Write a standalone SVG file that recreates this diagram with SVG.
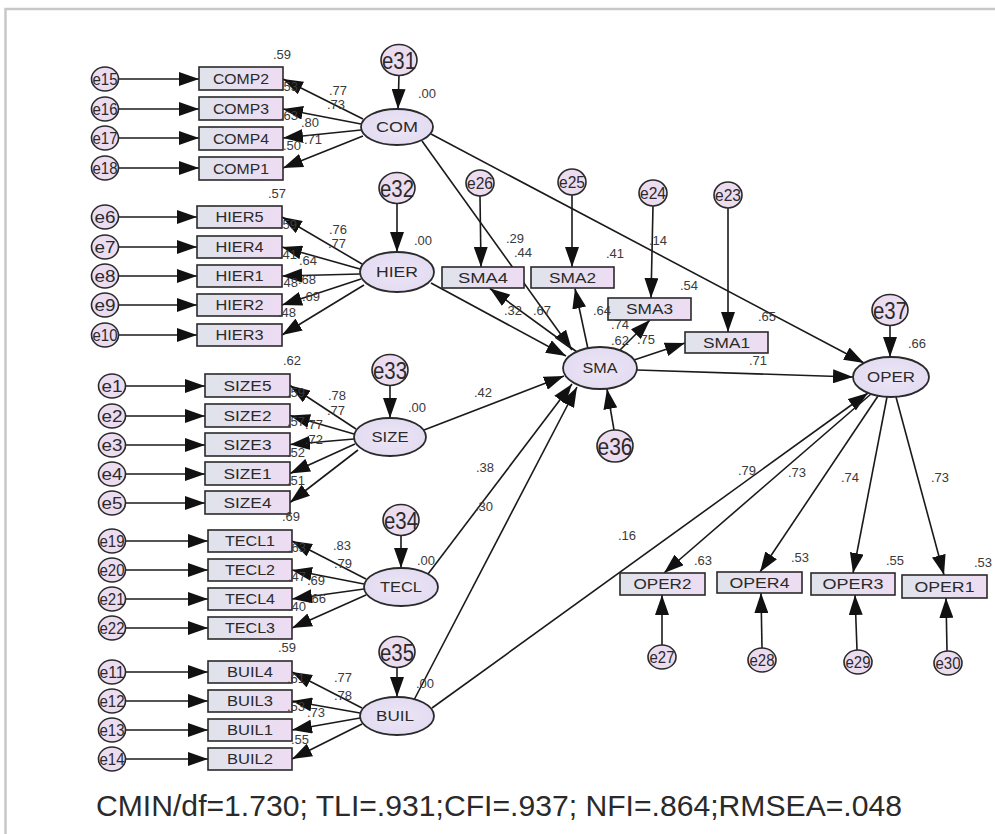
<svg xmlns="http://www.w3.org/2000/svg" width="995" height="834" viewBox="0 0 995 834">
<defs>
<linearGradient id="gb" x1="0" y1="0" x2="1" y2="0"><stop offset="0" stop-color="#dfe3eb"/><stop offset="1" stop-color="#eedcf3"/></linearGradient>
<radialGradient id="gl" cx="0.5" cy="0.5" r="0.6"><stop offset="0" stop-color="#ece6f6"/><stop offset="1" stop-color="#e2daf1"/></radialGradient>
<marker id="ah" markerWidth="20" markerHeight="14" refX="20" refY="7" orient="auto" markerUnits="userSpaceOnUse"><path d="M0,0 L20,7 L0,14 z" fill="#111"/></marker>
<style>
.box{fill:url(#gb);stroke:#2a2a2a;stroke-width:1.6}
.lat{fill:url(#gl);stroke:#2a2a2a;stroke-width:1.8}
.err{fill:#ecdcf0;stroke:#2a2a2a;stroke-width:1.6}
.ln{stroke:#1a1a1a;stroke-width:1.6;fill:none;marker-end:url(#ah)}
.t{font-family:"Liberation Sans",Arial,sans-serif;fill:#2a2a2a;text-anchor:middle}
.bt{font-size:14px}
.et{font-size:17px}
.eb{font-size:24px}
.v{font-family:"Liberation Sans",Arial,sans-serif;font-size:13px;fill:#3a3a3a;text-anchor:middle}
.fit{font-family:"Liberation Sans",Arial,sans-serif;font-size:29px;fill:#2a2a2a}
</style>
</defs>
<rect x="0" y="0" width="995" height="834" fill="#ffffff"/>
<path d="M5.5,834 L5.5,9 L995,9" fill="none" stroke="#c8c8c8" stroke-width="2.5"/>

<g id="connectors">
<line class="ln" x1="118.5" y1="79" x2="199" y2="79"/>
<line class="ln" x1="118.5" y1="109" x2="199" y2="109"/>
<line class="ln" x1="118.5" y1="138" x2="199" y2="138"/>
<line class="ln" x1="118.5" y1="168" x2="199" y2="168"/>
<line class="ln" x1="118.5" y1="217" x2="197" y2="217"/>
<line class="ln" x1="118.5" y1="247" x2="197" y2="247"/>
<line class="ln" x1="118.5" y1="276" x2="197" y2="276"/>
<line class="ln" x1="118.5" y1="305" x2="197" y2="305"/>
<line class="ln" x1="118.5" y1="335" x2="197" y2="335"/>
<line class="ln" x1="125.5" y1="386" x2="205" y2="386"/>
<line class="ln" x1="125.5" y1="416" x2="205" y2="416"/>
<line class="ln" x1="125.5" y1="445" x2="205" y2="445"/>
<line class="ln" x1="125.5" y1="474" x2="205" y2="474"/>
<line class="ln" x1="125.5" y1="503" x2="205" y2="503"/>
<line class="ln" x1="125.5" y1="541" x2="208" y2="541"/>
<line class="ln" x1="125.5" y1="570" x2="208" y2="570"/>
<line class="ln" x1="125.5" y1="599" x2="208" y2="599"/>
<line class="ln" x1="125.5" y1="628" x2="208" y2="628"/>
<line class="ln" x1="125.5" y1="672" x2="208" y2="672"/>
<line class="ln" x1="125.5" y1="701" x2="208" y2="701"/>
<line class="ln" x1="125.5" y1="730" x2="208" y2="730"/>
<line class="ln" x1="125.5" y1="759" x2="208" y2="759"/>
<line class="ln" x1="363" y1="119" x2="283" y2="79"/>
<line class="ln" x1="361" y1="124" x2="283" y2="109"/>
<line class="ln" x1="361" y1="130" x2="283" y2="138"/>
<line class="ln" x1="363" y1="136" x2="283" y2="168"/>
<line class="ln" x1="362" y1="264" x2="282" y2="217"/>
<line class="ln" x1="360" y1="269" x2="282" y2="247"/>
<line class="ln" x1="360" y1="274" x2="282" y2="276"/>
<line class="ln" x1="361" y1="279" x2="282" y2="305"/>
<line class="ln" x1="364" y1="285" x2="282" y2="335"/>
<line class="ln" x1="356" y1="429" x2="290" y2="385.5"/>
<line class="ln" x1="354" y1="434" x2="290" y2="415.5"/>
<line class="ln" x1="354" y1="439" x2="290" y2="444.5"/>
<line class="ln" x1="355" y1="444" x2="290" y2="473.5"/>
<line class="ln" x1="358" y1="450" x2="290" y2="502.5"/>
<line class="ln" x1="366" y1="579" x2="292" y2="541"/>
<line class="ln" x1="364" y1="584" x2="292" y2="570"/>
<line class="ln" x1="364" y1="589" x2="292" y2="599"/>
<line class="ln" x1="366" y1="595" x2="292" y2="628"/>
<line class="ln" x1="362" y1="708" x2="292" y2="672"/>
<line class="ln" x1="360" y1="713" x2="292" y2="701"/>
<line class="ln" x1="360" y1="718" x2="292" y2="730"/>
<line class="ln" x1="362" y1="724" x2="292" y2="759"/>
<line class="ln" x1="399" y1="75" x2="398" y2="109"/>
<line class="ln" x1="397" y1="203" x2="397" y2="252"/>
<line class="ln" x1="390" y1="385" x2="390" y2="418"/>
<line class="ln" x1="401" y1="535" x2="401" y2="568"/>
<line class="ln" x1="397" y1="667" x2="397" y2="697"/>
<line class="ln" x1="614" y1="430" x2="607" y2="389"/>
<line class="ln" x1="890" y1="325" x2="890" y2="357"/>
<line class="ln" x1="422" y1="141" x2="572" y2="350"/>
<line class="ln" x1="431" y1="134" x2="864" y2="363"/>
<line class="ln" x1="431" y1="283" x2="566" y2="356"/>
<line class="ln" x1="424" y1="430" x2="564" y2="376"/>
<line class="ln" x1="428" y1="574" x2="572" y2="384"/>
<line class="ln" x1="414" y1="700" x2="577" y2="387"/>
<line class="ln" x1="432" y1="708" x2="868" y2="393"/>
<line class="ln" x1="637" y1="370" x2="853" y2="377"/>
<line class="ln" x1="577" y1="352" x2="490" y2="288.5"/>
<line class="ln" x1="588" y1="349" x2="575" y2="288.5"/>
<line class="ln" x1="620" y1="350" x2="650" y2="320"/>
<line class="ln" x1="634" y1="360" x2="685" y2="343"/>
<line class="ln" x1="480" y1="196" x2="481" y2="267"/>
<line class="ln" x1="572" y1="195" x2="572" y2="267"/>
<line class="ln" x1="653" y1="206" x2="651" y2="298"/>
<line class="ln" x1="728" y1="208" x2="728" y2="332"/>
<line class="ln" x1="871" y1="394" x2="664" y2="573"/>
<line class="ln" x1="878" y1="396" x2="760" y2="572"/>
<line class="ln" x1="887" y1="397" x2="853" y2="573"/>
<line class="ln" x1="896" y1="397" x2="944" y2="575"/>
<line class="ln" x1="662" y1="645" x2="662" y2="595"/>
<line class="ln" x1="762" y1="648" x2="761" y2="593"/>
<line class="ln" x1="857" y1="650" x2="855" y2="595"/>
<line class="ln" x1="947" y1="651" x2="946" y2="598"/>
</g>

<g id="COMP2"><rect class="box" x="199" y="67" width="84" height="23"/><text class="t bt" x="241" y="83.5" textLength="56" lengthAdjust="spacingAndGlyphs">COMP2</text></g>
<g id="COMP3"><rect class="box" x="199" y="97" width="84" height="23"/><text class="t bt" x="241" y="113.5" textLength="56" lengthAdjust="spacingAndGlyphs">COMP3</text></g>
<g id="COMP4"><rect class="box" x="199" y="127" width="84" height="23"/><text class="t bt" x="241" y="143.5" textLength="56" lengthAdjust="spacingAndGlyphs">COMP4</text></g>
<g id="COMP1"><rect class="box" x="199" y="157" width="84" height="23"/><text class="t bt" x="241" y="173.5" textLength="56" lengthAdjust="spacingAndGlyphs">COMP1</text></g>
<g id="HIER5"><rect class="box" x="197" y="206" width="85" height="22"/><text class="t bt" x="239.5" y="222" textLength="48" lengthAdjust="spacingAndGlyphs">HIER5</text></g>
<g id="HIER4"><rect class="box" x="197" y="236" width="85" height="22"/><text class="t bt" x="239.5" y="252" textLength="48" lengthAdjust="spacingAndGlyphs">HIER4</text></g>
<g id="HIER1"><rect class="box" x="197" y="265" width="85" height="22"/><text class="t bt" x="239.5" y="281" textLength="48" lengthAdjust="spacingAndGlyphs">HIER1</text></g>
<g id="HIER2"><rect class="box" x="197" y="294" width="85" height="22"/><text class="t bt" x="239.5" y="310" textLength="48" lengthAdjust="spacingAndGlyphs">HIER2</text></g>
<g id="HIER3"><rect class="box" x="197" y="324" width="85" height="22"/><text class="t bt" x="239.5" y="340" textLength="48" lengthAdjust="spacingAndGlyphs">HIER3</text></g>
<g id="SIZE5"><rect class="box" x="205" y="374" width="85" height="23"/><text class="t bt" x="247.5" y="390.5" textLength="48" lengthAdjust="spacingAndGlyphs">SIZE5</text></g>
<g id="SIZE2"><rect class="box" x="205" y="404" width="85" height="23"/><text class="t bt" x="247.5" y="420.5" textLength="48" lengthAdjust="spacingAndGlyphs">SIZE2</text></g>
<g id="SIZE3"><rect class="box" x="205" y="433" width="85" height="23"/><text class="t bt" x="247.5" y="449.5" textLength="48" lengthAdjust="spacingAndGlyphs">SIZE3</text></g>
<g id="SIZE1"><rect class="box" x="205" y="462" width="85" height="23"/><text class="t bt" x="247.5" y="478.5" textLength="48" lengthAdjust="spacingAndGlyphs">SIZE1</text></g>
<g id="SIZE4"><rect class="box" x="205" y="491" width="85" height="23"/><text class="t bt" x="247.5" y="507.5" textLength="48" lengthAdjust="spacingAndGlyphs">SIZE4</text></g>
<g id="TECL1"><rect class="box" x="208" y="530" width="84" height="22"/><text class="t bt" x="250" y="546" textLength="50" lengthAdjust="spacingAndGlyphs">TECL1</text></g>
<g id="TECL2"><rect class="box" x="208" y="559" width="84" height="22"/><text class="t bt" x="250" y="575" textLength="50" lengthAdjust="spacingAndGlyphs">TECL2</text></g>
<g id="TECL4"><rect class="box" x="208" y="588" width="84" height="22"/><text class="t bt" x="250" y="604" textLength="50" lengthAdjust="spacingAndGlyphs">TECL4</text></g>
<g id="TECL3"><rect class="box" x="208" y="617" width="84" height="22"/><text class="t bt" x="250" y="633" textLength="50" lengthAdjust="spacingAndGlyphs">TECL3</text></g>
<g id="BUIL4"><rect class="box" x="208" y="661" width="84" height="22"/><text class="t bt" x="250" y="677" textLength="46" lengthAdjust="spacingAndGlyphs">BUIL4</text></g>
<g id="BUIL3"><rect class="box" x="208" y="690" width="84" height="22"/><text class="t bt" x="250" y="706" textLength="46" lengthAdjust="spacingAndGlyphs">BUIL3</text></g>
<g id="BUIL1"><rect class="box" x="208" y="719" width="84" height="22"/><text class="t bt" x="250" y="735" textLength="46" lengthAdjust="spacingAndGlyphs">BUIL1</text></g>
<g id="BUIL2"><rect class="box" x="208" y="748" width="84" height="22"/><text class="t bt" x="250" y="764" textLength="46" lengthAdjust="spacingAndGlyphs">BUIL2</text></g>
<g id="SMA4"><rect class="box" x="442" y="267" width="82" height="21"/><text class="t bt" x="483" y="282.5" textLength="50" lengthAdjust="spacingAndGlyphs">SMA4</text></g>
<g id="SMA2"><rect class="box" x="531" y="267" width="83" height="21"/><text class="t bt" x="572.5" y="282.5" textLength="47" lengthAdjust="spacingAndGlyphs">SMA2</text></g>
<g id="SMA3"><rect class="box" x="608" y="298" width="83" height="22"/><text class="t bt" x="649.5" y="314" textLength="47" lengthAdjust="spacingAndGlyphs">SMA3</text></g>
<g id="SMA1"><rect class="box" x="685" y="332" width="83" height="21"/><text class="t bt" x="726.5" y="347.5" textLength="47" lengthAdjust="spacingAndGlyphs">SMA1</text></g>
<g id="OPER2"><rect class="box" x="620" y="573" width="85" height="22"/><text class="t bt" x="662.5" y="589" textLength="58" lengthAdjust="spacingAndGlyphs">OPER2</text></g>
<g id="OPER4"><rect class="box" x="717" y="572" width="85" height="21"/><text class="t bt" x="759.5" y="587.5" textLength="60" lengthAdjust="spacingAndGlyphs">OPER4</text></g>
<g id="OPER3"><rect class="box" x="811" y="573" width="84" height="22"/><text class="t bt" x="853" y="589" textLength="61" lengthAdjust="spacingAndGlyphs">OPER3</text></g>
<g id="OPER1"><rect class="box" x="902" y="575" width="85" height="23"/><text class="t bt" x="944.5" y="591.5" textLength="60" lengthAdjust="spacingAndGlyphs">OPER1</text></g>

<g id="COM"><ellipse class="lat" cx="397" cy="127" rx="36" ry="18"/><text class="t bt" x="397" y="132" textLength="42" lengthAdjust="spacingAndGlyphs">COM</text></g>
<g id="HIER"><ellipse class="lat" cx="397" cy="272" rx="37" ry="20"/><text class="t bt" x="397" y="277" textLength="42" lengthAdjust="spacingAndGlyphs">HIER</text></g>
<g id="SIZE"><ellipse class="lat" cx="390" cy="437" rx="36" ry="19"/><text class="t bt" x="390" y="442" textLength="37" lengthAdjust="spacingAndGlyphs">SIZE</text></g>
<g id="TECL"><ellipse class="lat" cx="401" cy="587" rx="37" ry="19"/><text class="t bt" x="401" y="592" textLength="42" lengthAdjust="spacingAndGlyphs">TECL</text></g>
<g id="BUIL"><ellipse class="lat" cx="397" cy="716" rx="37" ry="19"/><text class="t bt" x="395" y="721" textLength="38" lengthAdjust="spacingAndGlyphs">BUIL</text></g>
<g id="SMA"><ellipse class="lat" cx="600" cy="368" rx="37" ry="21"/><text class="t bt" x="600" y="373" textLength="35" lengthAdjust="spacingAndGlyphs">SMA</text></g>
<g id="OPER"><ellipse class="lat" cx="891" cy="377" rx="38" ry="20"/><text class="t bt" x="891" y="382" textLength="48" lengthAdjust="spacingAndGlyphs">OPER</text></g>

<g id="e15"><ellipse class="err" cx="105" cy="79" rx="13.5" ry="12"/><text class="t et" x="105" y="85" textLength="25" lengthAdjust="spacingAndGlyphs">e15</text></g>
<g id="e16"><ellipse class="err" cx="105" cy="109" rx="13.5" ry="12"/><text class="t et" x="105" y="115" textLength="25" lengthAdjust="spacingAndGlyphs">e16</text></g>
<g id="e17"><ellipse class="err" cx="105" cy="138" rx="13.5" ry="12"/><text class="t et" x="105" y="144" textLength="25" lengthAdjust="spacingAndGlyphs">e17</text></g>
<g id="e18"><ellipse class="err" cx="105" cy="168" rx="13.5" ry="12"/><text class="t et" x="105" y="174" textLength="25" lengthAdjust="spacingAndGlyphs">e18</text></g>
<g id="e6"><ellipse class="err" cx="105" cy="217" rx="13.5" ry="12"/><text class="t et" x="105" y="223" textLength="21" lengthAdjust="spacingAndGlyphs">e6</text></g>
<g id="e7"><ellipse class="err" cx="105" cy="247" rx="13.5" ry="12"/><text class="t et" x="105" y="253" textLength="21" lengthAdjust="spacingAndGlyphs">e7</text></g>
<g id="e8"><ellipse class="err" cx="105" cy="276" rx="13.5" ry="12"/><text class="t et" x="105" y="282" textLength="21" lengthAdjust="spacingAndGlyphs">e8</text></g>
<g id="e9"><ellipse class="err" cx="105" cy="305" rx="13.5" ry="12"/><text class="t et" x="105" y="311" textLength="21" lengthAdjust="spacingAndGlyphs">e9</text></g>
<g id="e10"><ellipse class="err" cx="105" cy="335" rx="13.5" ry="12"/><text class="t et" x="105" y="341" textLength="25" lengthAdjust="spacingAndGlyphs">e10</text></g>
<g id="e1"><ellipse class="err" cx="112" cy="386" rx="13.5" ry="12"/><text class="t et" x="112" y="392" textLength="21" lengthAdjust="spacingAndGlyphs">e1</text></g>
<g id="e2"><ellipse class="err" cx="112" cy="416" rx="13.5" ry="12"/><text class="t et" x="112" y="422" textLength="21" lengthAdjust="spacingAndGlyphs">e2</text></g>
<g id="e3"><ellipse class="err" cx="112" cy="445" rx="13.5" ry="12"/><text class="t et" x="112" y="451" textLength="21" lengthAdjust="spacingAndGlyphs">e3</text></g>
<g id="e4"><ellipse class="err" cx="112" cy="474" rx="13.5" ry="12"/><text class="t et" x="112" y="480" textLength="21" lengthAdjust="spacingAndGlyphs">e4</text></g>
<g id="e5"><ellipse class="err" cx="112" cy="503" rx="13.5" ry="12"/><text class="t et" x="112" y="509" textLength="21" lengthAdjust="spacingAndGlyphs">e5</text></g>
<g id="e19"><ellipse class="err" cx="112" cy="541" rx="13.5" ry="12"/><text class="t et" x="112" y="547" textLength="25" lengthAdjust="spacingAndGlyphs">e19</text></g>
<g id="e20"><ellipse class="err" cx="112" cy="570" rx="13.5" ry="12"/><text class="t et" x="112" y="576" textLength="25" lengthAdjust="spacingAndGlyphs">e20</text></g>
<g id="e21"><ellipse class="err" cx="112" cy="599" rx="13.5" ry="12"/><text class="t et" x="112" y="605" textLength="25" lengthAdjust="spacingAndGlyphs">e21</text></g>
<g id="e22"><ellipse class="err" cx="112" cy="628" rx="13.5" ry="12"/><text class="t et" x="112" y="634" textLength="25" lengthAdjust="spacingAndGlyphs">e22</text></g>
<g id="e11"><ellipse class="err" cx="112" cy="672" rx="13.5" ry="12"/><text class="t et" x="112" y="678" textLength="25" lengthAdjust="spacingAndGlyphs">e11</text></g>
<g id="e12"><ellipse class="err" cx="112" cy="701" rx="13.5" ry="12"/><text class="t et" x="112" y="707" textLength="25" lengthAdjust="spacingAndGlyphs">e12</text></g>
<g id="e13"><ellipse class="err" cx="112" cy="730" rx="13.5" ry="12"/><text class="t et" x="112" y="736" textLength="25" lengthAdjust="spacingAndGlyphs">e13</text></g>
<g id="e14"><ellipse class="err" cx="112" cy="759" rx="13.5" ry="12"/><text class="t et" x="112" y="765" textLength="25" lengthAdjust="spacingAndGlyphs">e14</text></g>

<g id="e26"><ellipse class="err" cx="480" cy="183" rx="14" ry="13"/><text class="t et" x="480" y="189" textLength="26" lengthAdjust="spacingAndGlyphs">e26</text></g>
<g id="e25"><ellipse class="err" cx="572" cy="182" rx="14" ry="13"/><text class="t et" x="572" y="188" textLength="26" lengthAdjust="spacingAndGlyphs">e25</text></g>
<g id="e24"><ellipse class="err" cx="653" cy="193" rx="14" ry="13"/><text class="t et" x="653" y="199" textLength="26" lengthAdjust="spacingAndGlyphs">e24</text></g>
<g id="e23"><ellipse class="err" cx="728" cy="195" rx="14" ry="13"/><text class="t et" x="728" y="201" textLength="26" lengthAdjust="spacingAndGlyphs">e23</text></g>
<g id="e27"><ellipse class="err" cx="662" cy="657" rx="14" ry="12"/><text class="t et" x="662" y="663" textLength="25" lengthAdjust="spacingAndGlyphs">e27</text></g>
<g id="e28"><ellipse class="err" cx="762" cy="660" rx="14" ry="12"/><text class="t et" x="762" y="666" textLength="25" lengthAdjust="spacingAndGlyphs">e28</text></g>
<g id="e29"><ellipse class="err" cx="858" cy="662" rx="14" ry="12"/><text class="t et" x="858" y="668" textLength="25" lengthAdjust="spacingAndGlyphs">e29</text></g>
<g id="e30"><ellipse class="err" cx="948" cy="663" rx="14" ry="12"/><text class="t et" x="948" y="669" textLength="25" lengthAdjust="spacingAndGlyphs">e30</text></g>

<g id="e31"><ellipse class="err" cx="399" cy="60" rx="18" ry="15.5"/><text class="t eb" x="399" y="68.5" textLength="34" lengthAdjust="spacingAndGlyphs">e31</text></g>
<g id="e32"><ellipse class="err" cx="397" cy="188" rx="18" ry="15.5"/><text class="t eb" x="397" y="196.5" textLength="34" lengthAdjust="spacingAndGlyphs">e32</text></g>
<g id="e33"><ellipse class="err" cx="390" cy="370" rx="18" ry="15.5"/><text class="t eb" x="390" y="378.5" textLength="34" lengthAdjust="spacingAndGlyphs">e33</text></g>
<g id="e34"><ellipse class="err" cx="401" cy="520" rx="18" ry="15.5"/><text class="t eb" x="401" y="528.5" textLength="34" lengthAdjust="spacingAndGlyphs">e34</text></g>
<g id="e35"><ellipse class="err" cx="397" cy="652" rx="18" ry="15.5"/><text class="t eb" x="397" y="660.5" textLength="34" lengthAdjust="spacingAndGlyphs">e35</text></g>
<g id="e36"><ellipse class="err" cx="615" cy="446" rx="18" ry="16"/><text class="t eb" x="615" y="454.5" textLength="35" lengthAdjust="spacingAndGlyphs">e36</text></g>
<g id="e37"><ellipse class="err" cx="890" cy="310" rx="18" ry="15.5"/><text class="t eb" x="890" y="318.5" textLength="34" lengthAdjust="spacingAndGlyphs">e37</text></g>

<g id="values">
<text class="v" x="282" y="58.5">.59</text>
<text class="v" x="338" y="94.5">.77</text>
<text class="v" x="336" y="108.5">.73</text>
<text class="v" x="289" y="90.5">.53</text>
<text class="v" x="289" y="119.5">.63</text>
<text class="v" x="310" y="126.5">.80</text>
<text class="v" x="292" y="149.5">.50</text>
<text class="v" x="313" y="143.5">.71</text>
<text class="v" x="427" y="97.5">.00</text>
<text class="v" x="277" y="197.5">.57</text>
<text class="v" x="338" y="233.5">.76</text>
<text class="v" x="337" y="247.5">.77</text>
<text class="v" x="288" y="228.5">.59</text>
<text class="v" x="288" y="258.5">.41</text>
<text class="v" x="308" y="264.5">.64</text>
<text class="v" x="289" y="286.5">.48</text>
<text class="v" x="307" y="283.5">.68</text>
<text class="v" x="311" y="300.5">.69</text>
<text class="v" x="287" y="316.5">.48</text>
<text class="v" x="423" y="244.5">.00</text>
<text class="v" x="292" y="364.5">.62</text>
<text class="v" x="337" y="399.5">.78</text>
<text class="v" x="336" y="414.5">.77</text>
<text class="v" x="296" y="396.5">.59</text>
<text class="v" x="296" y="425.5">.57</text>
<text class="v" x="314" y="428.5">.77</text>
<text class="v" x="296" y="456.5">.52</text>
<text class="v" x="314" y="443.5">.72</text>
<text class="v" x="296" y="484.5">.51</text>
<text class="v" x="417" y="411.5">.00</text>
<text class="v" x="291" y="520.5">.69</text>
<text class="v" x="342" y="549.5">.83</text>
<text class="v" x="343" y="567.5">.79</text>
<text class="v" x="297" y="551.5">.63</text>
<text class="v" x="316" y="584.5">.69</text>
<text class="v" x="297" y="580.5">.47</text>
<text class="v" x="317" y="602.5">.66</text>
<text class="v" x="297" y="610.5">.40</text>
<text class="v" x="426" y="564.5">.00</text>
<text class="v" x="287" y="651.5">.59</text>
<text class="v" x="343" y="681.5">.77</text>
<text class="v" x="343" y="699.5">.78</text>
<text class="v" x="296" y="682.5">.61</text>
<text class="v" x="316" y="716.5">.73</text>
<text class="v" x="296" y="710.5">.53</text>
<text class="v" x="300" y="743.5">.55</text>
<text class="v" x="425" y="687.5">.00</text>
<text class="v" x="515" y="242.5">.29</text>
<text class="v" x="523" y="256.5">.44</text>
<text class="v" x="615" y="257.5">.41</text>
<text class="v" x="658" y="244.5">.14</text>
<text class="v" x="689" y="289.5">.54</text>
<text class="v" x="767" y="320.5">.65</text>
<text class="v" x="513" y="314.5">.32</text>
<text class="v" x="542" y="314.5">.67</text>
<text class="v" x="602" y="314.5">.64</text>
<text class="v" x="620" y="328.5">.74</text>
<text class="v" x="620" y="344.5">.62</text>
<text class="v" x="646" y="343.5">.75</text>
<text class="v" x="758" y="364.5">.71</text>
<text class="v" x="483" y="396.5">.42</text>
<text class="v" x="485" y="471.5">.38</text>
<text class="v" x="484" y="510.5">.30</text>
<text class="v" x="627" y="539.5">.16</text>
<text class="v" x="917" y="347.5">.66</text>
<text class="v" x="747" y="474.5">.79</text>
<text class="v" x="797" y="476.5">.73</text>
<text class="v" x="850" y="481.5">.74</text>
<text class="v" x="940" y="481.5">.73</text>
<text class="v" x="703" y="564.5">.63</text>
<text class="v" x="800" y="561.5">.53</text>
<text class="v" x="895" y="564.5">.55</text>
<text class="v" x="983" y="566.5">.53</text>
</g>

<text class="fit" x="96" y="816" textLength="806" lengthAdjust="spacingAndGlyphs">CMIN/df=1.730; TLI=.931;CFI=.937; NFI=.864;RMSEA=.048</text>
</svg>
